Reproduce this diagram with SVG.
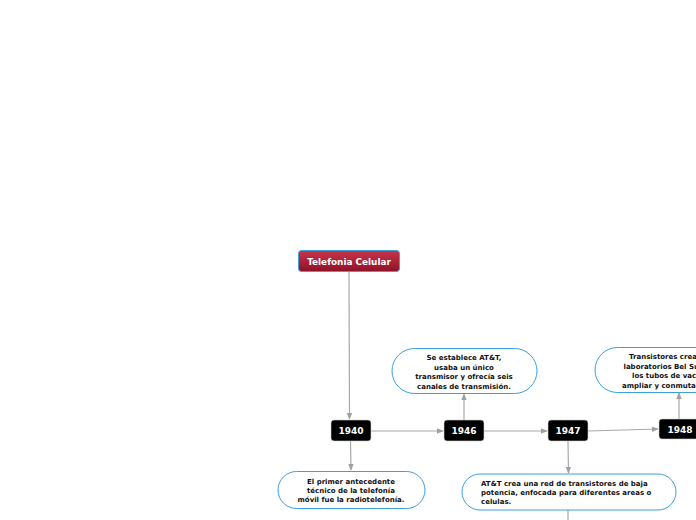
<svg xmlns="http://www.w3.org/2000/svg" width="696" height="520" viewBox="0 0 696 520">
<defs>
<linearGradient id="red" x1="0" y1="0" x2="0" y2="1">
<stop offset="0" stop-color="#c8354a"/>
<stop offset="1" stop-color="#8e1228"/>
</linearGradient>
<marker id="arr" viewBox="0 0 10 10" refX="9" refY="5" markerWidth="7" markerHeight="7" markerUnits="userSpaceOnUse" orient="auto">
<path d="M0,1 L10,5 L0,9 Z" fill="#a0a0a0"/>
</marker>
<style>
.c{stroke:#a8a8a8;stroke-width:1.2;fill:none;marker-end:url(#arr)}
.cn{stroke:#a8a8a8;stroke-width:1.2;fill:none}
.yr{fill:#000;stroke:#d0d0d0;stroke-width:0.6}
.yt{font-family:"DejaVu Sans",Verdana,sans-serif;font-weight:bold;font-size:9px;fill:#fff;text-anchor:middle}
.b{fill:#fff;stroke:#3aa0e0;stroke-width:1}
.t{font-family:"DejaVu Sans",Verdana,sans-serif;font-weight:bold;font-size:7px;fill:#111}
.m{text-anchor:middle}
</style>
</defs>
<rect width="696" height="520" fill="#fff"/>
<g id="connectors">
<path class="c" d="M349,272 L349.5,419"/>
<path class="c" d="M371,431 L443,431"/>
<path class="c" d="M464,420 L464,394"/>
<path class="c" d="M484,431 L547,431"/>
<path class="c" d="M588,431 L658,429"/>
<path class="c" d="M679,419 L679,393"/>
<path class="c" d="M350.5,441 L351,470"/>
<path class="c" d="M568,441 L568.5,473"/>
<path class="cn" d="M568,510 L568,520"/>
</g>
<g id="root">
<rect x="298.5" y="250.5" width="101" height="21" rx="3" fill="url(#red)" stroke="#3aa0e0" stroke-width="1"/>
<text x="349" y="264.5" class="yt" style="font-size:8.9px">Telefonia Celular</text>
</g>
<g id="y1940">
<rect class="yr" x="331" y="420" width="40" height="21" rx="3"/>
<text x="351" y="434.2" class="yt">1940</text>
</g>
<g id="y1946">
<rect class="yr" x="444" y="420" width="40" height="21" rx="3"/>
<text x="464" y="434.2" class="yt">1946</text>
</g>
<g id="y1947">
<rect class="yr" x="548" y="420" width="40" height="21" rx="3"/>
<text x="568" y="434.2" class="yt">1947</text>
</g>
<g id="y1948">
<rect class="yr" x="659" y="419" width="44" height="20" rx="3"/>
<text x="680" y="432.5" class="yt">1948</text>
</g>
<g id="n1946">
<rect class="b" x="392" y="348.5" width="145" height="45" rx="22.5"/>
<text class="t m" x="464" y="360">Se establece AT&amp;T,</text>
<text class="t m" x="464" y="369.5">usaba un único</text>
<text class="t m" x="464" y="379">transmisor y ofrecía seis</text>
<text class="t m" x="464" y="388.5">canales de transmisión.</text>
</g>
<g id="n1948">
<rect class="b" x="595" y="347.5" width="130" height="45" rx="22.5"/>
<text class="t" x="629" y="359">Transistores crea</text>
<text class="t" x="623.5" y="368.5">laboratorios Bel Su</text>
<text class="t" x="632" y="378">los tubos de vac</text>
<text class="t" x="622" y="387.5">ampliar y conmuta</text>
</g>
<g id="n1940">
<rect class="b" x="278" y="471.5" width="147" height="37" rx="18.5"/>
<text class="t m" x="351" y="484">El primer antecedente</text>
<text class="t m" x="351" y="493">técnico de la telefonía</text>
<text class="t m" x="351" y="502">móvil fue la radiotelefonía.</text>
</g>
<g id="n1947">
<rect class="b" x="462" y="474" width="214" height="36" rx="18"/>
<text class="t" x="481" y="486">AT&amp;T crea una red de transistores de baja</text>
<text class="t" x="481" y="495">potencia, enfocada para diferentes areas o</text>
<text class="t" x="481" y="504">celulas.</text>
</g>
</svg>
